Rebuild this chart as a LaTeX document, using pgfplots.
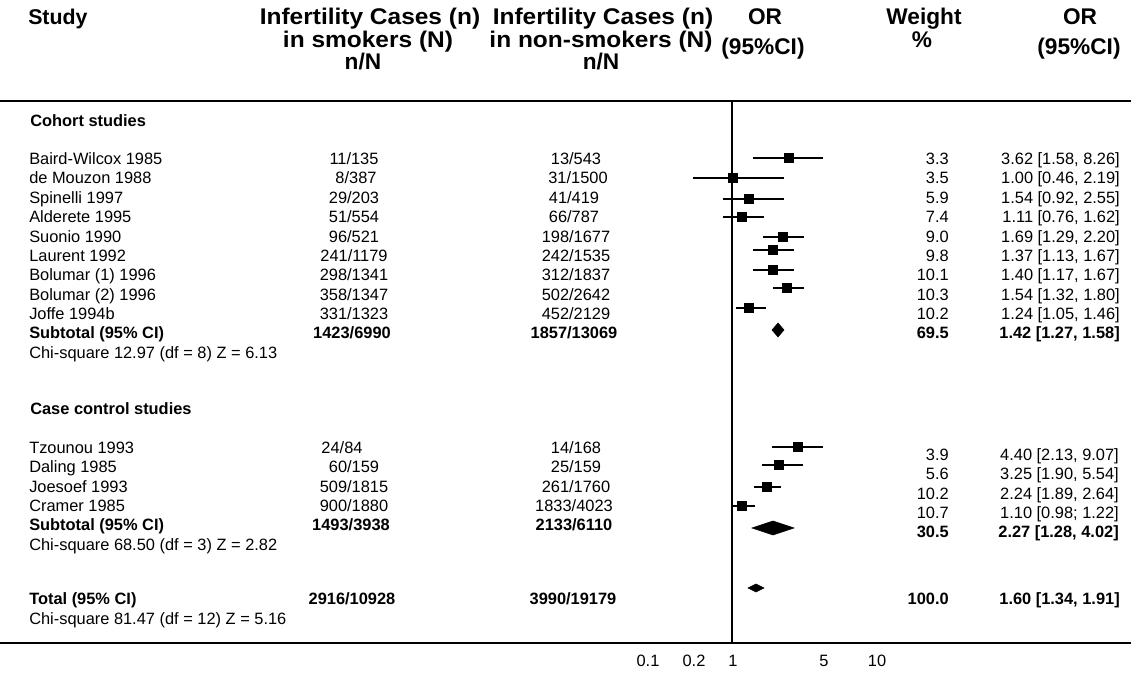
\documentclass[border=0pt]{standalone}
\usepackage{fontspec}
\setmainfont{Liberation Sans}
\usepackage{graphicx}
\usepackage{pgfplots}
\usepackage{pgfplotstable}
\pgfplotsset{compat=1.18}

\newcommand\body{\fontsize{12.3}{14}\selectfont}
\newcommand\head{\fontsize{17}{19}\selectfont\bfseries}
\newcommand\wide[1]{\scalebox{1.08}[1]{#1}}

\tikzset{
    tl/.style={anchor=base west, inner sep=0pt, font=\body},
    tc/.style={anchor=base, inner sep=0pt, font=\body},
    tr/.style={anchor=base east, inner sep=0pt, font=\body},
    bl/.style={tl, font=\body\bfseries},
    bc/.style={tc, font=\body\bfseries},
    br/.style={tr, font=\body\bfseries},
    hd/.style={anchor=base, inner sep=0pt, font=\head},
}

% forest rows, in picture units (x: position on the OR scale, y: row, lo/hi: CI ends)
\pgfplotstableread{
x   y     lo   hi
789 -158  753  823
733 -178  693  784
749 -199  723  784
742 -217  723  764
783 -237  763  804
773 -250  753  794
773 -270  753  794
787 -288  773  804
749 -308  736  766
}\cohort
\pgfplotstableread{
x   y     lo   hi
798 -447  772  823
779 -465  762  803
767 -487  754  781
742 -506  733  755
}\casectl

\begin{document}
\begin{tikzpicture}
\begin{axis}[
    scale only axis, width=848.25pt, height=406.5pt,
    xmin=0, xmax=1131, ymin=-643, ymax=-101,
    axis x line*=box, axis y line=none,
    axis line style={line width=1.1pt},
    ytick=\empty,
    xtick={648,694,733,824,877},
    xticklabels={0.1,0.2,1,5,10},
    major tick length=0pt,
    xticklabel style={anchor=base, yshift=-18pt, font=\body,
        /pgf/number format/assume math mode=true},
    clip=false,
]
\coordinate (BL) at (axis cs:0,-673);
\coordinate (TR) at (axis cs:1131,0);

% header
\node[hd, anchor=base west, font=\fontsize{16}{18}\selectfont\bfseries] at (28,-25) {Study};
\node[hd] at (370,-25) {\wide{Infertility Cases (n)}};
\node[hd] at (368,-48) {\wide{in smokers (N)}};
\node[hd] at (363,-70) {n/N};
\node[hd] at (603,-25) {\wide{Infertility Cases (n)}};
\node[hd] at (601,-48) {\wide{in non-smokers (N)}};
\node[hd] at (601,-70) {n/N};
\node[hd] at (765,-25) {OR};
\node[hd] at (763,-55) {(95\%CI)};
\node[hd] at (924,-25) {Weight};
\node[hd] at (922,-48) {\%};
\node[hd] at (1080,-25) {OR};
\node[hd] at (1079,-55) {(95\%CI)};

% line of no effect
\draw[line width=1.3pt] (732,-101) -- (732,-643);

% cohort studies
\node[bl] at (30,-127) {Cohort studies};
\node[tl] at (29,-165) {Baird-Wilcox 1985};
\node[tc] at (354,-165) {11/135};
\node[tc] at (576,-165) {13/543};
\node[tr] at (949,-165) {3.3};
\node[tr] at (1120,-165) {3.62 [1.58, 8.26]};
\node[tl] at (29,-184) {de Mouzon 1988};
\node[tc] at (356,-184) {8/387};
\node[tc] at (578,-184) {31/1500};
\node[tr] at (949,-184) {3.5};
\node[tr] at (1120,-184) {1.00 [0.46, 2.19]};
\node[tl] at (29,-204) {Spinelli 1997};
\node[tc] at (354,-204) {29/203};
\node[tc] at (574,-204) {41/419};
\node[tr] at (949,-204) {5.9};
\node[tr] at (1120,-204) {1.54 [0.92, 2.55]};
\node[tl] at (29,-223) {Alderete 1995};
\node[tc] at (354,-223) {51/554};
\node[tc] at (574,-223) {66/787};
\node[tr] at (949,-223) {7.4};
\node[tr] at (1120,-223) {1.11 [0.76, 1.62]};
\node[tl] at (29,-243) {Suonio 1990};
\node[tc] at (354,-243) {96/521};
\node[tc] at (576,-243) {198/1677};
\node[tr] at (949,-243) {9.0};
\node[tr] at (1120,-243) {1.69 [1.29, 2.20]};
\node[tl] at (29,-262) {Laurent 1992};
\node[tc] at (354,-262) {241/1179};
\node[tc] at (576,-262) {242/1535};
\node[tr] at (949,-262) {9.8};
\node[tr] at (1120,-262) {1.37 [1.13, 1.67]};
\node[tl] at (29,-281) {Bolumar (1) 1996};
\node[tc] at (354,-281) {298/1341};
\node[tc] at (576,-281) {312/1837};
\node[tr] at (949,-281) {10.1};
\node[tr] at (1120,-281) {1.40 [1.17, 1.67]};
\node[tl] at (29,-301) {Bolumar (2) 1996};
\node[tc] at (354,-301) {358/1347};
\node[tc] at (576,-301) {502/2642};
\node[tr] at (949,-301) {10.3};
\node[tr] at (1120,-301) {1.54 [1.32, 1.80]};
\node[tl] at (29,-320) {Joffe 1994b};
\node[tc] at (354,-320) {331/1323};
\node[tc] at (576,-320) {452/2129};
\node[tr] at (949,-320) {10.2};
\node[tr] at (1120,-320) {1.24 [1.05, 1.46]};
\node[bl] at (29,-339) {Subtotal (95\% CI)};
\node[bc] at (352,-339) {1423/6990};
\node[bc] at (574,-339) {1857/13069};
\node[br] at (949,-339) {69.5};
\node[br] at (1120,-339) {1.42 [1.27, 1.58]};
\node[tl] at (29,-359) {Chi-square 12.97 (df = 8) Z = 6.13};

% case control studies
\node[bl] at (30,-415) {Case control studies};
\node[tl] at (29,-454) {Tzounou 1993};
\node[tc] at (342,-454) {24/84};
\node[tc] at (576,-454) {14/168};
\node[tl] at (29,-473) {Daling 1985};
\node[tc] at (354,-473) {60/159};
\node[tc] at (576,-473) {25/159};
\node[tl] at (29,-493) {Joesoef 1993};
\node[tc] at (354,-493) {509/1815};
\node[tc] at (576,-493) {261/1760};
\node[tl] at (29,-512) {Cramer 1985};
\node[tc] at (354,-512) {900/1880};
\node[tc] at (574,-512) {1833/4023};
\node[bl] at (29,-531) {Subtotal (95\% CI)};
\node[bc] at (351,-531) {1493/3938};
\node[bc] at (574,-531) {2133/6110};
\node[tl] at (29,-551) {Chi-square 68.50 (df = 3) Z = 2.82};
\node[tr] at (949,-461) {3.9};
\node[tr] at (1119,-461) {4.40 [2.13, 9.07]};
\node[tr] at (949,-480) {5.6};
\node[tr] at (1119,-480) {3.25 [1.90, 5.54]};
\node[tr] at (949,-500) {10.2};
\node[tr] at (1119,-500) {2.24 [1.89, 2.64]};
\node[tr] at (949,-519) {10.7};
\node[tr] at (1119,-519) {1.10 [0.98; 1.22]};
\node[br] at (949,-538) {30.5};
\node[br] at (1119,-538) {2.27 [1.28, 4.02]};

% total
\node[bl] at (29,-605) {Total (95\% CI)};
\node[bc] at (352,-605) {2916/10928};
\node[bc] at (573,-605) {3990/19179};
\node[br] at (949,-605) {100.0};
\node[br] at (1120,-605) {1.60 [1.34, 1.91]};
\node[tl] at (29,-625) {Chi-square 81.47 (df = 12) Z = 5.16};

% study estimates with confidence intervals
\addplot[only marks, mark=square*, mark size=3.3pt, black,
    error bars/.cd, x dir=both, x explicit, error mark=none,
    error bar style={line width=1.3pt}]
  table[x=x, y=y, x error minus expr={\thisrow{x}-\thisrow{lo}},
        x error plus expr={\thisrow{hi}-\thisrow{x}}] {\cohort};
\addplot[only marks, mark=square*, mark size=3.3pt, black,
    error bars/.cd, x dir=both, x explicit, error mark=none,
    error bar style={line width=1.3pt}]
  table[x=x, y=y, x error minus expr={\thisrow{x}-\thisrow{lo}},
        x error plus expr={\thisrow{hi}-\thisrow{x}}] {\casectl};

% pooled estimates
\addplot[fill=black, draw=black] coordinates {(772,-330) (778,-323) (784,-330) (778,-337)} -- cycle;
\addplot[fill=black, draw=black] coordinates {(752,-528) (773,-521) (794,-528) (773,-535)} -- cycle;
\addplot[fill=black, draw=black] coordinates {(748,-588) (756,-584) (764,-588) (756,-592)} -- cycle;
\end{axis}
\pgfresetboundingbox
\path (BL) rectangle (TR);
\end{tikzpicture}
\end{document}
